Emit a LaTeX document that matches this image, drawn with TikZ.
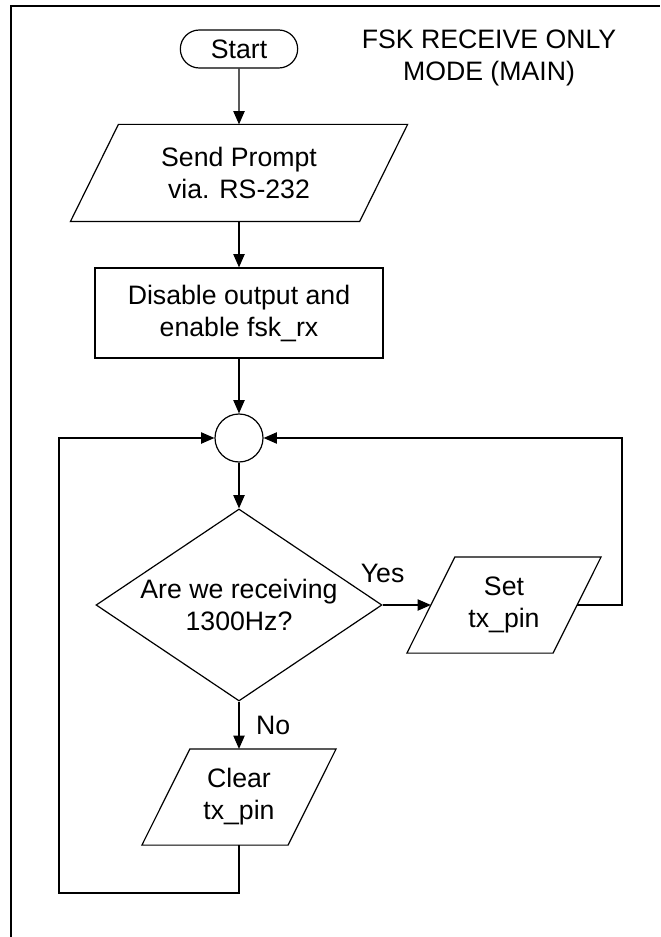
\documentclass[tikz,border=0pt]{standalone}
\usepackage{fontspec}
\setmainfont{Liberation Sans}
\usetikzlibrary{positioning,shapes.misc,shapes.geometric,arrows.meta}

\tikzset{
  terminal/.style={rounded rectangle, draw, minimum width=88pt, minimum height=28.5pt, inner sep=0pt},
  % parallelogram drawn round a plain box, slant 18pt each way
  io/.style={rectangle, align=center, inner sep=0pt,
    append after command={\pgfextra{\draw ([xshift=-18pt]\tikzlastnode.south west)
      -- ([xshift=18pt]\tikzlastnode.north west) -- ([xshift=18pt]\tikzlastnode.north east)
      -- ([xshift=-18pt]\tikzlastnode.south east) -- cycle;}}},
  process/.style={rectangle, draw, minimum width=216pt, minimum height=67.5pt, align=center, inner sep=0pt},
  joint/.style={circle, draw, minimum size=36pt, inner sep=0pt},
  decision/.style={diamond, draw, minimum width=214.5pt, minimum height=144pt, inner sep=0pt},
  flow/.style={-{Triangle[length=10pt,width=8.5pt]}},
}

\begin{document}
\begin{tikzpicture}[x=0.75pt,y=-0.75pt,on grid,line width=0.9pt,
    font=\fontsize{20}{24}\selectfont]
  \useasboundingbox (0,0) rectangle (660,937);
  \draw (11,937) |- (660,6);

  \node[terminal] (start) at (239,49) {Start};
  \node[align=center] (title) at (489,58) {FSK RECEIVE ONLY\\MODE (MAIN)};
  \node[io, minimum width=216pt, minimum height=72pt] (prompt) [below=93pt of start] {Send Prompt\\via. RS-232};
  \node[process] (disable) [below=105pt of prompt] {Disable output and\\enable fsk\_rx};
  \node[joint] (join) [below=93.75pt of disable] {};
  \node[decision, label={[align=center]center:Are we receiving\\1300Hz?}] (check) [below=125.25pt of join] {};
  \node[io, minimum width=108.75pt, minimum height=71.25pt] (set) [right=198.75pt of check] {Set\\tx\_pin};
  \node[io, minimum width=108.75pt, minimum height=71.25pt] (clear) [below=144pt of check] {Clear\\tx\_pin};

  \coordinate (lloop) at (59,893);
  \coordinate (rloop) at (622,438);

  \draw[flow] (start) -- (prompt);
  \draw[flow] (prompt) -- (disable);
  \draw[flow] (disable) -- (join);
  \draw[flow] (join) -- (check);
  \draw[flow] (check.east) -- node[at start, above=13pt] {Yes} (set.west);
  \draw[flow] (check.south) -- node[right=9pt] {No} (clear.north);
  \draw[flow] (set.east) -| (rloop |- join.east) -- (join.east);
  \draw[flow] (clear.south) |- (lloop) |- (join.west);
\end{tikzpicture}
\end{document}
